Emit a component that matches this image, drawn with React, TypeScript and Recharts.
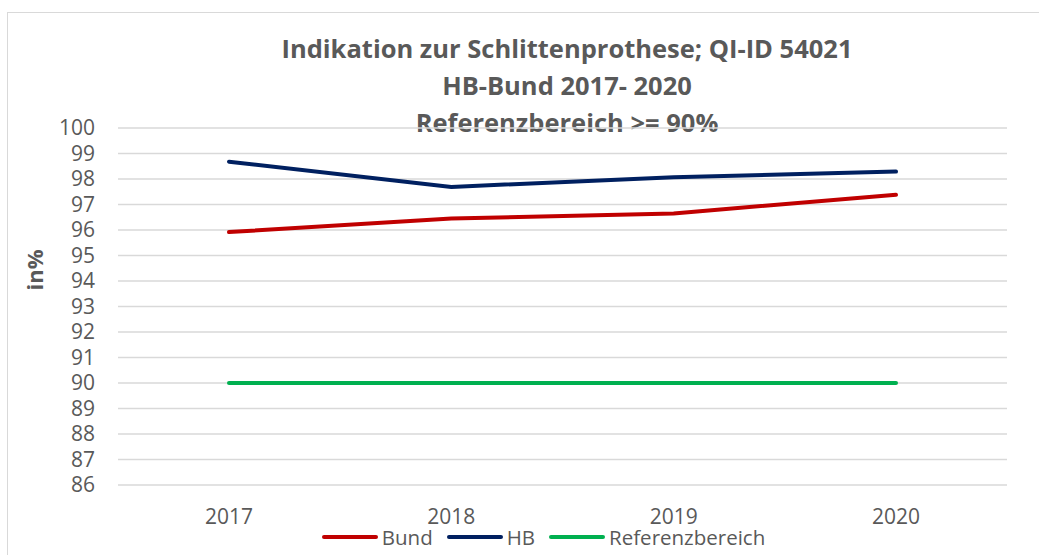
import React from 'react';
import { LineChart, Line, XAxis, YAxis, CartesianGrid, Legend } from 'recharts';

const years = ['2017', '2018', '2019', '2020'];
const bund = [95.92, 96.45, 96.65, 97.38];
const hb = [98.68, 97.69, 98.07, 98.29];
const referenz = [90, 90, 90, 90];
const yTicks = [86, 87, 88, 89, 90, 91, 92, 93, 94, 95, 96, 97, 98, 99, 100];
const titleLines = ['Indikation zur Schlittenprothese; QI-ID 54021', 'HB-Bund 2017- 2020', 'Referenzbereich >= 90%'];
const seriesNames = ['Bund', 'HB', 'Referenzbereich'];
const seriesColors = ['#C00000', '#002060', '#00B050'];

const data = years.map((y, i) => ({ year: y, Bund: bund[i], HB: hb[i], Referenzbereich: referenz[i] }));

const FONT = '"Open Sans", sans-serif';

const renderLegend = () => (
  <div style={{ display: 'flex', justifyContent: 'center', alignItems: 'center', fontFamily: FONT, fontSize: 20.5, color: '#595959', paddingLeft: 62, lineHeight: '18px', height: 18 }}>
    {seriesNames.map((n, i) => (
      <div key={n} style={{ display: 'flex', alignItems: 'center', marginRight: 14 }}>
        <svg width={56} height={8} style={{ marginRight: 4 }}>
          <line x1={2} y1={4} x2={54} y2={4} stroke={seriesColors[i]} strokeWidth={4} strokeLinecap="round" />
        </svg>
        <span>{n}</span>
      </div>
    ))}
  </div>
);

const YLabel = () => (
  <text x={43} y={270} transform="rotate(-90 43 270)" textAnchor="middle" fill="#595959" fontFamily={FONT} fontWeight={700} fontSize={22}>
    in%
  </text>
);

export default function App() {
  return (
    <div style={{ position: 'absolute', left: 0, top: 0, width: 1039, height: 555, overflow: 'hidden', background: '#fff' }}>
      <div style={{ position: 'absolute', left: 7, top: 12, width: 1100, height: 600, border: '1px solid #D9D9D9', boxSizing: 'border-box' }} />
      <div style={{ position: 'absolute', left: 0, top: 30, width: 1134, textAlign: 'center', fontFamily: FONT, fontWeight: 700, fontSize: 25.5, color: '#595959', lineHeight: '37px' }}>
        {titleLines.map((t) => (
          <div key={t}>{t}</div>
        ))}
      </div>
      <div style={{ position: 'absolute', left: 0, top: 0 }}>
        <LineChart width={1039} height={555} data={data} margin={{ top: 128, right: 32, bottom: 0, left: 0 }}>
          <CartesianGrid vertical={false} stroke="#D9D9D9" strokeWidth={1.5} />
          <XAxis
            dataKey="year"
            axisLine={false}
            tickLine={false}
            tickSize={0}
            tickMargin={24}
            height={70}
            padding={{ left: 111, right: 111 }}
            tick={{ fill: '#595959', fontSize: 21, fontFamily: FONT }}
          />
          <YAxis
            domain={[86, 100]}
            ticks={yTicks}
            interval={0}
            axisLine={false}
            tickLine={false}
            tickSize={0}
            tickMargin={23}
            width={118}
            tick={{ fill: '#595959', fontSize: 21, fontFamily: FONT }}
            label={<YLabel />}
          />
          <Legend
            content={renderLegend}
            verticalAlign="middle"
            wrapperStyle={{ top: 528, left: 0, width: 1039 }}
          />
          <Line dataKey="Bund" stroke={seriesColors[0]} strokeWidth={4} dot={false} isAnimationActive={false} strokeLinecap="round" />
          <Line dataKey="HB" stroke={seriesColors[1]} strokeWidth={4} dot={false} isAnimationActive={false} strokeLinecap="round" />
          <Line dataKey="Referenzbereich" stroke={seriesColors[2]} strokeWidth={4} dot={false} isAnimationActive={false} strokeLinecap="round" />
        </LineChart>
      </div>
    </div>
  );
}
